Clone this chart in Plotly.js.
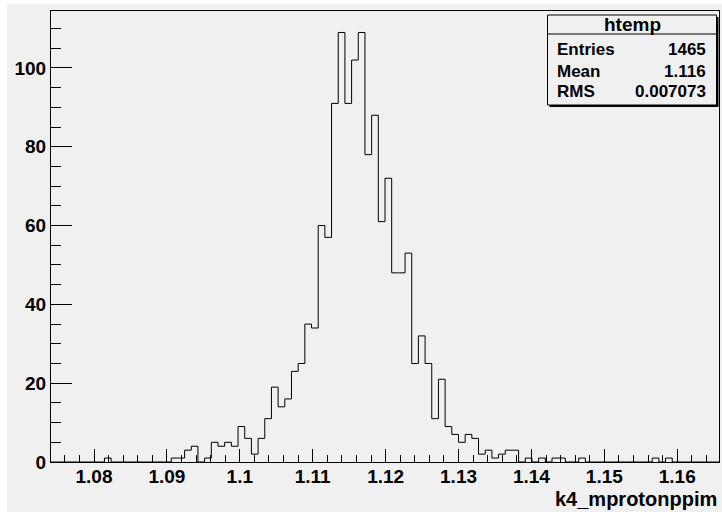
<!DOCTYPE html>
<html>
<head>
<meta charset="utf-8">
<script src="https://cdn.plot.ly/plotly-3.0.1.min.js"></script>
<style>
  html, body { margin: 0; padding: 0; background: #ffffff; }
  #plot { position: absolute; left: 7px; top: 4px; width: 715px; height: 508px; }
</style>
</head>
<body>
<div id="plot"></div>
<script>
// ---- data ----
const histName = 'htemp';
const varName = 'k4_mprotonppim';
const histXmin = 1.07410;
const histXmax = 1.16573;
const binCounts = [
  0,0,0,0,0,0,0,0,1,0,
  0,0,0,0,0,0,0,0,1,1,
  3,4,0,1,5,4,5,4,9,6,
  2,6,11,19,14,16,23,25,35,34,
  60,57,91,109,91,102,109,78,88,61,
  72,48,48,53,25,32,25,11,21,9,
  7,5,7,6,2,3,1,2,3,3,
  0,1,0,1,0,1,1,0,0,1,
  0,0,0,0,0,0,0,0,0,0,
  1,0,1,0,0,0,0,0,0,0
];
const xTickVals = [1.08, 1.09, 1.10, 1.11, 1.12, 1.13, 1.14, 1.15, 1.16];
const xTickText = ['1.08', '1.09', '1.1', '1.11', '1.12', '1.13', '1.14', '1.15', '1.16'];
const yTickVals = [0, 20, 40, 60, 80, 100];
const yTickText = ['0', '20', '40', '60', '80', '100'];
const statsLabels = ['Entries', 'Mean', 'RMS'];
const statsValues = ['1465', '1.116', '0.007073'];

// ---- histogram outline (bin edges from the histogram definition) ----
const nBins = binCounts.length;
const binW = (histXmax - histXmin) / nBins;
const hx = [], hy = [];
for (let i = 0; i < nBins; i++) { hx.push(histXmin + i * binW); hy.push(binCounts[i]); }
hx.push(histXmax); hy.push(binCounts[nBins - 1]);
const yMax = Math.max(...binCounts) * 1.05;

// ---- layout geometry (page pixels) ----
const PL = 51, PR = 719, PT = 11, PB = 462;
const fx = X => (X - PL) / (PR - PL);
const fy = Y => (PB - Y) / (PB - PT);
const FONT = 'Liberation Sans, Arial, Helvetica, sans-serif';
const GRAY = '#f0f0f0';

const trace = {
  type: 'scatter', mode: 'lines', x: hx, y: hy,
  line: { shape: 'hv', color: '#000000', width: 1 },
  hoverinfo: 'skip'
};

const shapes = [
  { type: 'rect', xref: 'paper', yref: 'paper', layer: 'above',
    x0: fx(549.5), x1: fx(718.5), y0: fy(107), y1: fy(17),
    fillcolor: '#000000', line: { width: 0 } },
  { type: 'rect', xref: 'paper', yref: 'paper', layer: 'above',
    x0: fx(547.5), x1: fx(716.5), y0: fy(105), y1: fy(15),
    fillcolor: GRAY, line: { color: '#000000', width: 1 } },
  { type: 'line', xref: 'paper', yref: 'paper', layer: 'above',
    x0: fx(547.5), x1: fx(716.5), y0: fy(34), y1: fy(34),
    line: { color: '#000000', width: 1 } }
];

const statFont = { family: FONT, size: 17, color: '#000000', weight: 'bold' };
const annotations = [
  { xref: 'paper', yref: 'paper', x: fx(632), y: fy(25), xanchor: 'center', yanchor: 'middle',
    text: histName, showarrow: false, font: { family: FONT, size: 19, color: '#000000', weight: 'bold' } },
  { xref: 'paper', yref: 'paper', x: fx(719), y: fy(499), xanchor: 'right', yanchor: 'middle',
    text: varName, showarrow: false, font: { family: FONT, size: 20, color: '#000000', weight: 'bold' } }
];
const rowY = [50, 71, 91.5];
statsLabels.forEach((lab, i) => {
  annotations.push({ xref: 'paper', yref: 'paper', x: fx(555), y: fy(rowY[i]), xanchor: 'left', yanchor: 'middle',
    text: lab, showarrow: false, font: statFont });
  annotations.push({ xref: 'paper', yref: 'paper', x: fx(708), y: fy(rowY[i]), xanchor: 'right', yanchor: 'middle',
    text: statsValues[i], showarrow: false, font: statFont });
});

const tickFont = { family: FONT, size: 19, color: '#000000', weight: 'bold' };
const layout = {
  width: 715, height: 508,
  margin: { l: PL - 7, r: (7 + 715) - PR, t: PT - 4, b: (4 + 508) - PB, pad: 0 },
  paper_bgcolor: GRAY, plot_bgcolor: GRAY,
  showlegend: false,
  xaxis: {
    range: [histXmin, histXmax], showgrid: false, zeroline: false,
    showline: true, mirror: true, linecolor: '#000000', linewidth: 1,
    ticks: 'inside', ticklen: 13, tickwidth: 1, tickcolor: '#000000',
    tickmode: 'array', tickvals: xTickVals, ticktext: xTickText,
    tickfont: tickFont, ticklabelstandoff: -3,
    minor: { ticks: 'inside', ticklen: 7, tickwidth: 1, tickcolor: '#000000', tick0: 1.08, dtick: 0.002, showgrid: false }
  },
  yaxis: {
    range: [0, yMax], showgrid: false, zeroline: false,
    showline: true, mirror: true, linecolor: '#000000', linewidth: 1,
    ticks: 'inside', ticklen: 21, tickwidth: 1, tickcolor: '#000000',
    tickmode: 'array', tickvals: yTickVals, ticktext: yTickText,
    tickfont: tickFont,
    minor: { ticks: 'inside', ticklen: 10, tickwidth: 1, tickcolor: '#000000', tick0: 0, dtick: 5, showgrid: false }
  },
  shapes: shapes,
  annotations: annotations
};

Plotly.newPlot('plot', [trace], layout, { staticPlot: true, displayModeBar: false });
</script>
</body>
</html>
